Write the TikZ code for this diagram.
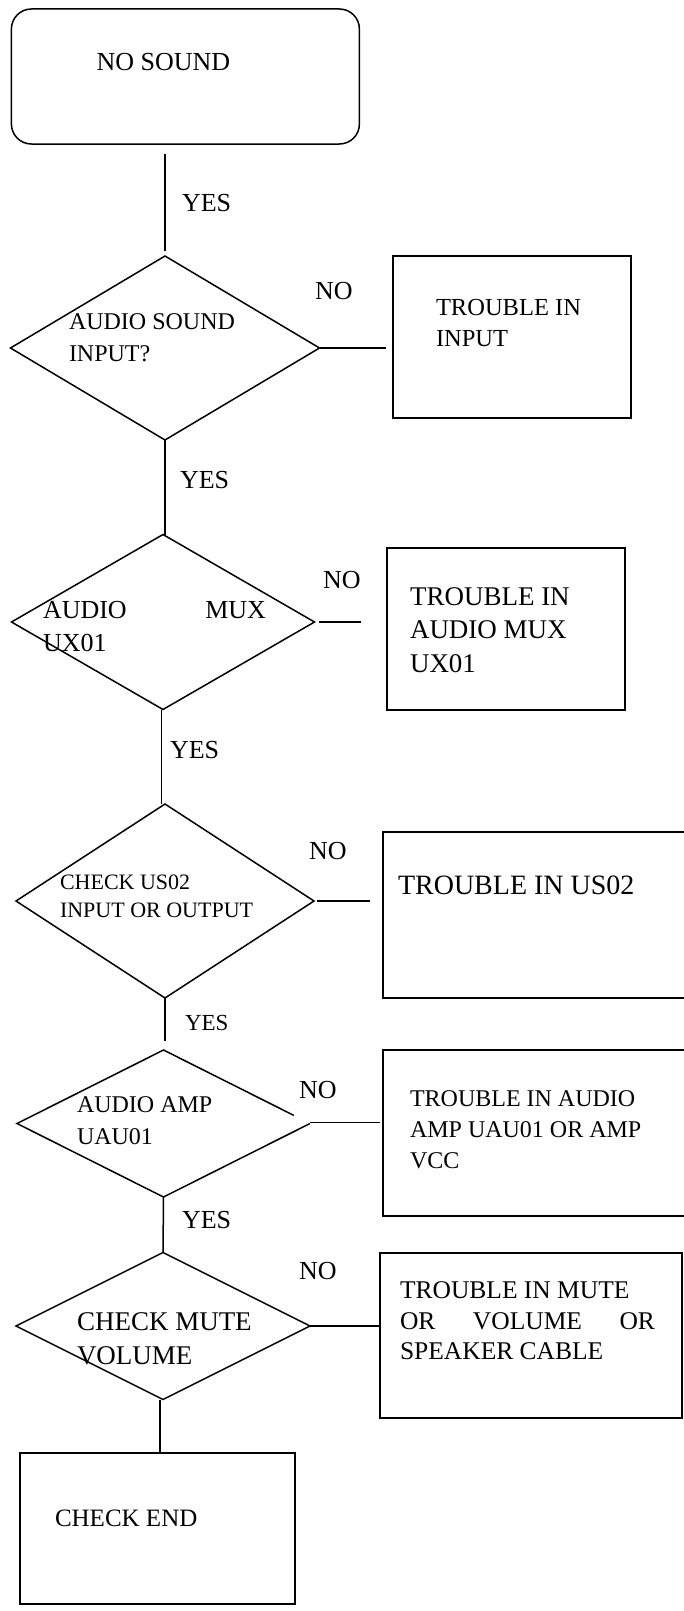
\documentclass[tikz,border=0pt]{standalone}
\usepackage{fontspec}
\setmainfont{Liberation Serif}
\usetikzlibrary{shapes.geometric,calc}
\tikzset{
  shp/.style={draw=black, line width=1.5pt, inner sep=0pt, outer sep=0pt},
  dia/.style={shp, shape=diamond},
  rbox/.style={shp, shape=rectangle},
  conn/.style={draw=black, line width=1.5pt},
  thinconn/.style={draw=black, line width=0.9pt},
  txt/.style={inner sep=0pt, outer sep=0pt, anchor=west, align=left, text=black},
}
\newcommand{\fs}[2]{\fontsize{#1}{#2}\selectfont}
\begin{document}
\begin{tikzpicture}[x=1pt,y=-1pt]
\useasboundingbox (0,0) rectangle (684,1611);
\clip (0,0) rectangle (684,1611);
\fill[white] (0,0) rectangle (684,1611);

% start box
\node[rbox, rounded corners=20pt, minimum width=348pt, minimum height=135pt] (start) at (185.4,76.5) {};
\node[txt, font=\fs{26}{31}] (tstart) at (96.5,62) {NO SOUND};

% decision 1
\node[dia, minimum width=309pt, minimum height=184pt] (d1) at (165,348) {};
\node[txt, font=\fs{24}{32}] (td1) at (69,338) {AUDIO SOUND\\INPUT?};
\node[rbox, minimum width=238pt, minimum height=162pt] (b1) at (512,337) {};
\node[txt, font=\fs{24.5}{31}] (tb1) at (436,323.5) {TROUBLE IN\\INPUT};

% decision 2
\node[dia, minimum width=303pt, minimum height=175pt] (d2) at (163,622) {};
\node[txt, font=\fs{26}{33}] (td2) at (43,626.5) {\makebox[223pt][s]{AUDIO MUX}\\UX01};
\node[rbox, minimum width=238pt, minimum height=162pt] (b2) at (506,629) {};
\node[txt, font=\fs{27}{33.5}] (tb2) at (410,629.7) {TROUBLE IN\\AUDIO MUX\\UX01};

% decision 3
\node[dia, minimum width=298pt, minimum height=194pt] (d3) at (165,901) {};
\node[txt, font=\fs{22}{28}] (td3) at (60,896) {CHECK US02\\INPUT OR OUTPUT};
\node[rbox, minimum width=317pt, minimum height=166pt] (b3) at (541.5,915) {};
\node[txt, font=\fs{28}{33}] (tb3) at (398,885) {TROUBLE IN US02};

% decision 4 (outline drawn as path, with small gap near right vertex)
\node[shape=diamond, inner sep=0pt, outer sep=0pt, minimum width=293pt, minimum height=147pt] (d4) at (163.5,1123.5) {};
\draw[line width=1.5pt, line join=miter] ($(d4.north)!0.89!(d4.east)$) -- (d4.north) -- (d4.west) -- (d4.south) -- (d4.east);
\node[txt, font=\fs{24}{32}] (td4) at (77,1121) {AUDIO AMP\\UAU01};
\node[rbox, minimum width=317pt, minimum height=166pt] (b4) at (541.5,1133) {};
\node[txt, font=\fs{24}{31}] (tb4) at (410,1130) {TROUBLE IN AUDIO\\AMP UAU01 OR AMP\\VCC};

% decision 5
\node[dia, minimum width=294pt, minimum height=147pt] (d5) at (163,1326) {};
\node[txt, font=\fs{27}{34}] (td5) at (77,1339) {CHECK MUTE\\VOLUME};
\node[rbox, minimum width=302pt, minimum height=165pt] (b5) at (531,1335.5) {};
\node[txt, font=\fs{25.5}{30.5}] (tb5) at (400,1320.7) {TROUBLE IN MUTE\\\makebox[255pt][s]{OR VOLUME OR}\\SPEAKER CABLE};

% end box
\node[rbox, minimum width=275pt, minimum height=151pt] (end) at (157.5,1528.5) {};
\node[txt, font=\fs{25}{30}] (tend) at (55,1518) {CHECK END};

% YES connectors
\draw[conn] ([yshift=-10pt]start.south -| d1.north) -- ([yshift=5pt]d1.north);
\draw[conn] (d1.south) -- (d1.south |- d2.north);
\draw[conn] ([xshift=-1.5pt]d2.south) -- ([xshift=-1.5pt]d2.south |- d3.north);
\draw[conn] (d3.south) -- ([yshift=9pt]d3.south |- d4.north);
\draw[conn] (d4.south) -- (d5.north);
\draw[conn] ([xshift=-3pt]d5.south) -- ([xshift=-3pt]d5.south |- end.north);

% NO connectors
\coordinate (d4e) at ([yshift=1.5pt]d4.east);
\draw[conn] (d1.east) -- ([xshift=-7pt]b1.west |- d1.east);
\draw[conn] ([xshift=4pt]d2.east) -- ([xshift=-26pt]b2.west |- d2.east);
\draw[conn] ([xshift=3pt]d3.east) -- ([xshift=-13pt]b3.west |- d3.east);
\draw[thinconn] (d4e) -- ([xshift=-3pt]b4.west |- d4e);
\draw[conn] (d5.east) -- (b5.west |- d5.east);

% labels
\node[txt, font=\fs{26}{30}] (yes1) at (182,203) {YES};
\node[txt, font=\fs{26}{30}] (yes2) at (180,480) {YES};
\node[txt, font=\fs{26}{30}] (yes3) at (170,750) {YES};
\node[txt, font=\fs{23}{28}] (yes4) at (185,1023) {YES};
\node[txt, font=\fs{26}{30}] (yes5) at (182,1220) {YES};
\node[txt, font=\fs{26}{30}] (no1) at (315,291) {NO};
\node[txt, font=\fs{26}{30}] (no2) at (323,580) {NO};
\node[txt, font=\fs{26}{30}] (no3) at (309,851) {NO};
\node[txt, font=\fs{26}{30}] (no4) at (299,1090) {NO};
\node[txt, font=\fs{26}{30}] (no5) at (299,1271) {NO};
\end{tikzpicture}
\end{document}
